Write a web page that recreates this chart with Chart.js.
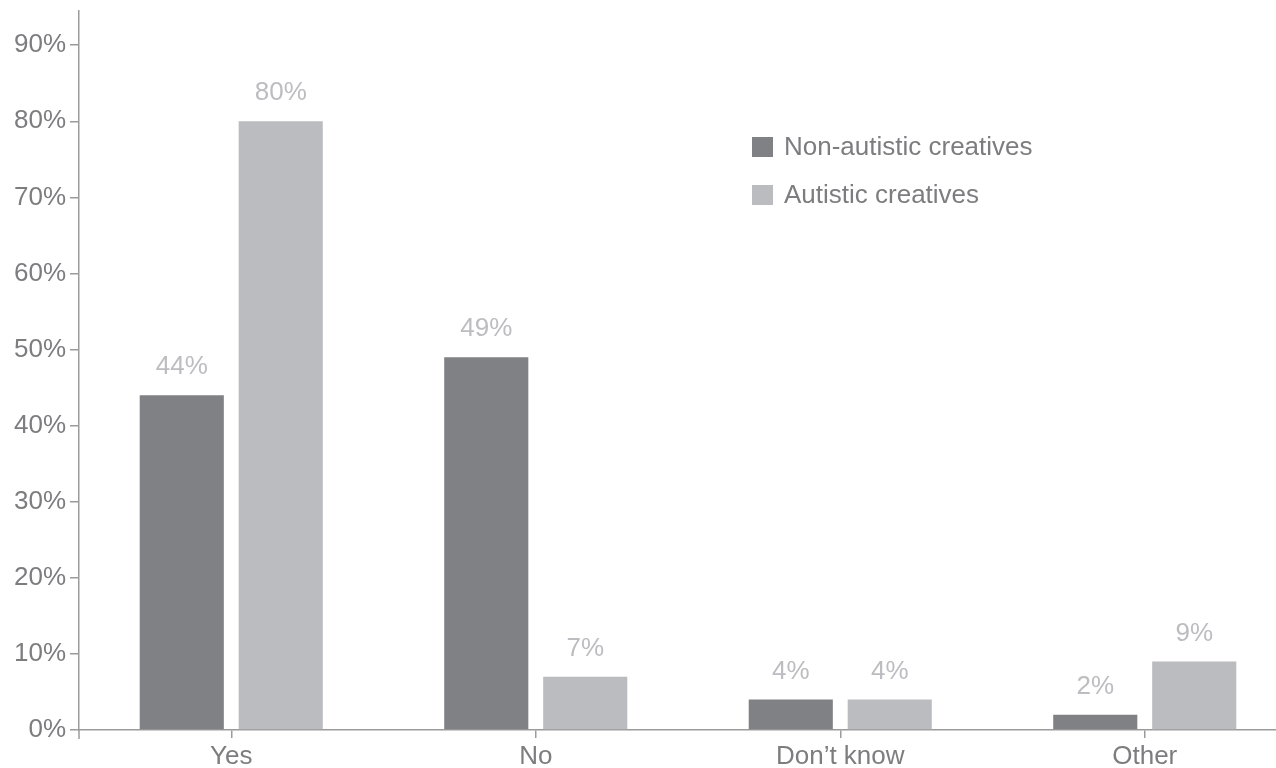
<!DOCTYPE html>
<html>
<head>
<meta charset="utf-8">
<script src="https://cdn.jsdelivr.net/npm/chart.js@4/dist/chart.umd.min.js"></script>
<style>
  html, body { margin: 0; padding: 0; background: #fff; overflow: hidden; }
  #wrap { width: 1297px; height: 768px; position: relative; }
</style>
</head>
<body>
<div id="wrap"><canvas id="chart"></canvas></div>
<script>
const categories = ['Yes', 'No', 'Don\u2019t know', 'Other'];
const nonAutistic = [44, 49, 4, 2];
const autistic = [80, 7, 4, 9];
const seriesNames = ['Non-autistic creatives', 'Autistic creatives'];
const yTicks = [0, 10, 20, 30, 40, 50, 60, 70, 80, 90];

const FONT = "'Liberation Sans', Arial, Helvetica, sans-serif";
const AXIS = '#9b9b9b';
const TEXT = '#7d7d80';
const VALUE = '#bdbdc1';

// value labels above each bar + the manual legend
const extras = {
  id: 'extras',
  afterDatasetsDraw(chart) {
    const ctx = chart.ctx;
    ctx.save();
    ctx.font = '26px ' + FONT;
    ctx.fillStyle = VALUE;
    ctx.textAlign = 'center';
    ctx.textBaseline = 'middle';
    chart.data.datasets.forEach((ds, i) => {
      chart.getDatasetMeta(i).data.forEach((bar, j) => {
        ctx.fillText(ds.data[j] + '%', bar.x, bar.y - 28);
      });
    });

    // little stub of the y axis below the x axis
    const a = chart.chartArea;
    ctx.strokeStyle = AXIS;
    ctx.lineWidth = 1.5;
    ctx.beginPath();
    ctx.moveTo(a.left, a.bottom);
    ctx.lineTo(a.left, a.bottom + 9);
    ctx.stroke();

    // legend
    const lx = a.left + 673, ly = a.top + 136;
    chart.data.datasets.forEach((ds, i) => {
      const y = ly + i * 48;
      ctx.fillStyle = ds.backgroundColor;
      ctx.fillRect(lx, y - 10, 21, 20);
      ctx.fillStyle = TEXT;
      ctx.textAlign = 'left';
      ctx.fillText(ds.label, lx + 32, y + 1);
    });
    ctx.restore();
  }
};

new Chart(document.getElementById('chart'), {
  type: 'bar',
  data: {
    labels: categories,
    datasets: [
      { label: seriesNames[0], data: nonAutistic, backgroundColor: '#808185' },
      { label: seriesNames[1], data: autistic, backgroundColor: '#bbbcc0' }
    ]
  },
  options: {
    responsive: true,
    maintainAspectRatio: false,
    animation: false,
    categoryPercentage: 0.65,
    barPercentage: 0.85,
    layout: { padding: { top: 11, right: 0, left: 0, bottom: 0 } },
    plugins: { legend: { display: false }, tooltip: { enabled: false } },
    scales: {
      x: {
        grid: { display: true, drawOnChartArea: false, offset: false, tickLength: 8, color: AXIS, lineWidth: 1.5 },
        border: { color: AXIS, width: 1.5 },
        ticks: { color: TEXT, font: { family: FONT, size: 26 }, padding: 3, maxRotation: 0 },
        afterFit(scale) { scale.height = 38; }
      },
      y: {
        min: 0,
        max: 94.5,
        grid: { display: true, drawOnChartArea: false, tickLength: 9, color: AXIS, lineWidth: 1.5 },
        border: { color: AXIS, width: 1.5 },
        ticks: {
          color: TEXT,
          font: { family: FONT, size: 26 },
          padding: 4,
          callback: v => v + '%'
        },
        afterBuildTicks(scale) { scale.ticks = yTicks.map(v => ({ value: v })); },
        afterFit(scale) {
          scale.width = 79;
          scale.paddingTop = 0;
          scale.paddingBottom = 0;
        }
      }
    }
  },
  plugins: [extras]
});
</script>
</body>
</html>
